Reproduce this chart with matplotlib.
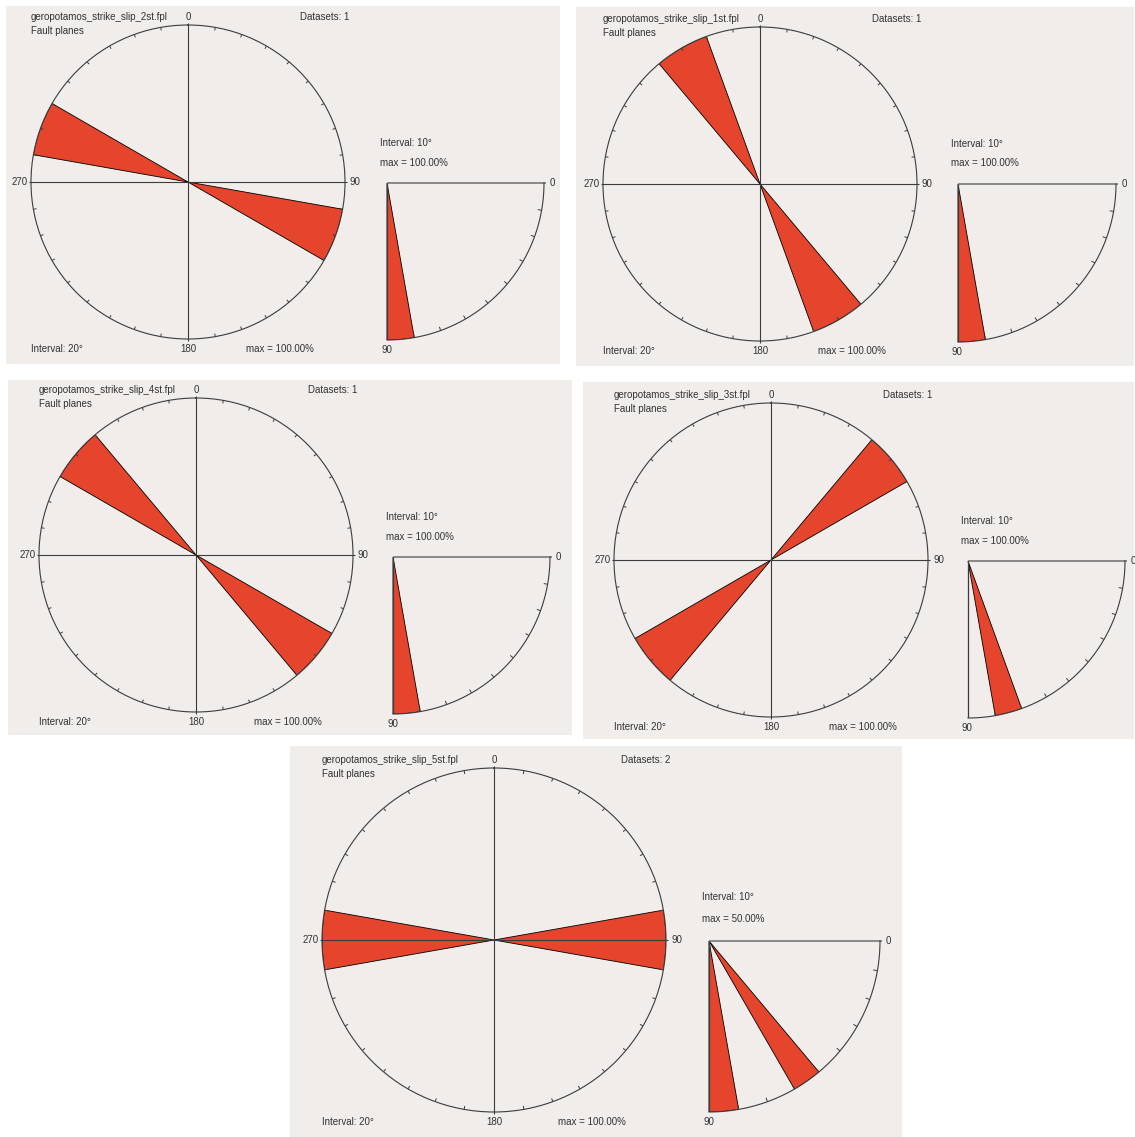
import numpy as np
import matplotlib
matplotlib.use("Agg")
import matplotlib.pyplot as plt
from matplotlib.patches import Rectangle

plt.rcParams['font.family'] = ['Liberation Sans', 'DejaVu Sans']

# ---------------- data ----------------
file_names = ["geropotamos_strike_slip_2st.fpl", "geropotamos_strike_slip_1st.fpl",
              "geropotamos_strike_slip_4st.fpl", "geropotamos_strike_slip_3st.fpl",
              "geropotamos_strike_slip_5st.fpl"]
plane_type = "Fault planes"
dataset_counts = [1, 1, 1, 1, 2]
strike_interval = 20
dip_interval = 10
strike_bin_starts = [[100, 280], [140, 320], [120, 300], [40, 220], [80, 260]]
strike_percents = [[100, 100], [100, 100], [100, 100], [100, 100], [100, 100]]
strike_max = [100.0, 100.0, 100.0, 100.0, 100.0]
dip_bin_starts = [[80], [80], [80], [70], [50, 80]]
dip_percents = [[100], [100], [100], [100], [50, 50]]
dip_max = [100.0, 100.0, 100.0, 100.0, 50.0]
strike_ticks = list(range(0, 360, 10))
dip_ticks = list(range(0, 91, 10))
compass_labels = ["0", "90", "180", "270"]
dip_end_labels = ["0", "90"]

# ---------------- layout (pixels) ----------------
W, H = 1135, 1137
boxes = [(6, 6, 560, 364), (576, 7, 1134, 366), (8, 380, 572, 735),
         (583, 382, 1134, 739), (290, 746, 902, 1137)]
circles = [(188, 182, 157), (760, 184, 157), (196, 555, 157), (771, 560, 157), (494, 940, 172)]
dips = [(387, 183, 157), (958, 184, 158), (393, 557, 157), (968, 561, 157), (709, 941, 171)]

BG = '#f0edeb'
RED = '#e6452d'
LINE = '#3c3c3c'
TXT = '#333333'
FS = 7

fig = plt.figure(figsize=(W / 100, H / 100), dpi=100)
fig.patch.set_facecolor('white')
bg = fig.add_axes([0, 0, 1, 1])
bg.set_xlim(0, W)
bg.set_ylim(H, 0)
bg.axis('off')


def polar_axes(cx, cy, r):
    ax = fig.add_axes([(cx - r) / W, (H - cy - r) / H, 2 * r / W, 2 * r / H], projection='polar')
    ax.set_facecolor('none')
    ax.set_theta_direction(-1)
    ax.grid(False)
    ax.set_xticks([])
    ax.set_yticks([])
    return ax


for i in range(5):
    x0, y0, x1, y1 = boxes[i]
    bg.add_patch(Rectangle((x0, y0), x1 - x0, y1 - y0, facecolor=BG, edgecolor='none'))
    cx, cy, r = circles[i]
    dx, dy, dr = dips[i]

    # texts of strike rose
    bg.text(cx - r, cy - r - 8, file_names[i], fontsize=FS, color=TXT, ha='left', va='center')
    bg.text(cx - r, cy - r + 6, plane_type, fontsize=FS, color=TXT, ha='left', va='center')
    bg.text(cx + 1.025 * r, cy - r - 8, f"Datasets: {dataset_counts[i]}", fontsize=FS,
            color=TXT, ha='right', va='center')
    bg.text(cx, cy - r - 8, compass_labels[0], fontsize=FS, color=TXT, ha='center', va='center')
    bg.text(cx + r + 5, cy, compass_labels[1], fontsize=FS, color=TXT, ha='left', va='center')
    bg.text(cx, cy + r + 10, compass_labels[2], fontsize=FS, color=TXT, ha='center', va='center')
    bg.text(cx - r - 3, cy, compass_labels[3], fontsize=FS, color=TXT, ha='right', va='center')
    bg.text(cx - r, cy + r + 10, f"Interval: {strike_interval}°", fontsize=FS, color=TXT,
            ha='left', va='center')
    bg.text(cx + 0.37 * r, cy + r + 10, f"max = {strike_max[i]:.2f}%", fontsize=FS, color=TXT,
            ha='left', va='center')

    # texts of dip rose
    bg.text(dx - 7, dy - 0.255 * dr, f"Interval: {dip_interval}°", fontsize=FS, color=TXT,
            ha='left', va='center')
    bg.text(dx - 7, dy - 0.13 * dr, f"max = {dip_max[i]:.2f}%", fontsize=FS, color=TXT,
            ha='left', va='center')
    bg.text(dx + dr + 6, dy, dip_end_labels[0], fontsize=FS, color=TXT, ha='left', va='center')
    bg.text(dx - 6, dy + dr + 10, dip_end_labels[1], fontsize=FS, color=TXT, ha='left', va='center')

    # strike rose
    ax = polar_axes(cx, cy, r)
    ax.set_theta_zero_location('N')
    th = np.deg2rad(np.array(strike_bin_starts[i]) + strike_interval / 2)
    ax.bar(th, np.array(strike_percents[i]) / strike_max[i], width=np.deg2rad(strike_interval),
           color=RED, edgecolor='black', linewidth=0.6, zorder=2)
    ax.vlines(np.deg2rad([0, 90, 180, 270]), 0, 1.012, color=LINE, lw=0.8, zorder=3, clip_on=False)
    ax.vlines(np.deg2rad(strike_ticks), 0.98, 1.0, color=LINE, lw=0.7, zorder=3)
    ax.spines['polar'].set_color(LINE)
    ax.spines['polar'].set_linewidth(0.8)
    ax.set_ylim(0, 1)

    # dip rose (quarter)
    ax2 = polar_axes(dx, dy, dr)
    ax2.set_theta_zero_location('E')
    th2 = np.deg2rad(np.array(dip_bin_starts[i]) + dip_interval / 2)
    ax2.bar(th2, np.array(dip_percents[i]) / dip_max[i], width=np.deg2rad(dip_interval),
            color=RED, edgecolor='black', linewidth=0.6, zorder=2)
    ax2.vlines(np.deg2rad([0]), 0, 1.01, color='#808080', lw=1.3, zorder=3, clip_on=False)
    ax2.vlines(np.deg2rad([90]), 0, 1.0, color=LINE, lw=0.9, zorder=3)
    arc = np.deg2rad(np.linspace(dip_ticks[0], dip_ticks[-1], 181))
    ax2.plot(arc, np.ones_like(arc), color=LINE, lw=0.8, zorder=3, clip_on=False)
    ax2.vlines(np.deg2rad(dip_ticks[1:-1]), 0.975, 1.0, color=LINE, lw=0.7, zorder=3)
    ax2.spines['polar'].set_visible(False)
    ax2.set_ylim(0, 1)

fig.savefig("out.png", dpi=100, facecolor='white')
